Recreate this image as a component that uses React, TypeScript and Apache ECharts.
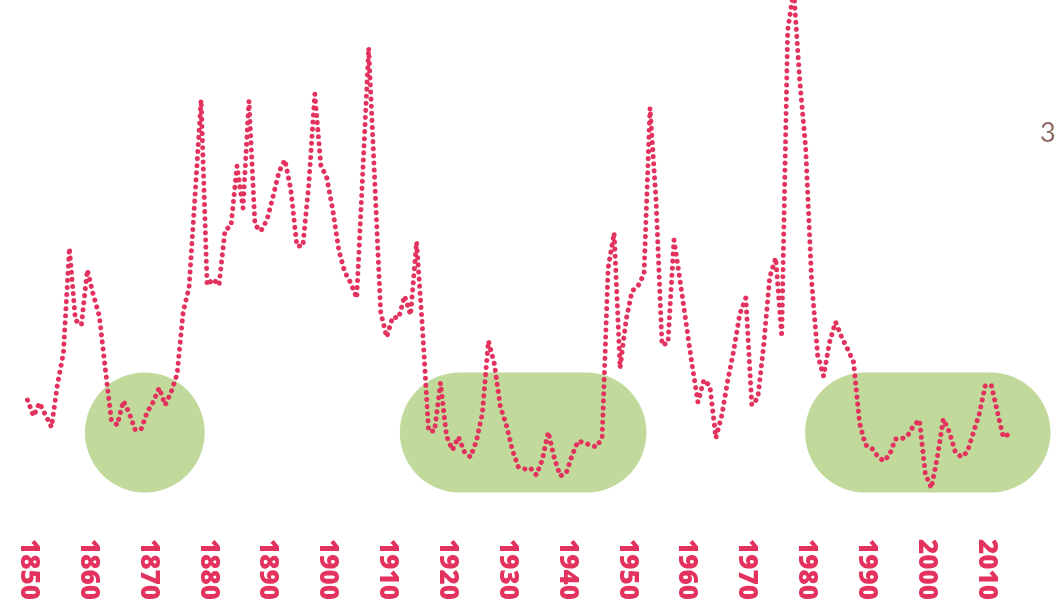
import React, { useEffect, useRef } from "react";
import * as echarts from "echarts";

const START_YEAR = 1850;
const values: number[] = [
  // 1850-1859
  20.0, 16.8, 19.4, 17.0, 14.6, 23.0, 29.4, 50.4, 36.0, 35.0,
  // 1860-1869
  46.0, 41.0, 36.8, 26.2, 16.0, 15.0, 19.8, 17.4, 14.0, 14.2,
  // 1870-1879
  17.6, 19.6, 22.4, 19.0, 21.6, 25.2, 37.6, 42.6, 61.0, 80.0,
  // 1880-1889
  43.0, 44.2, 43.0, 54.0, 54.8, 66.8, 58.4, 79.8, 55.0, 53.8,
  // 1890-1899
  56.0, 60.6, 65.6, 68.0, 62.0, 50.8, 50.8, 63.2, 81.2, 67.0,
  // 1900-1909
  64.4, 58.0, 50.0, 45.6, 43.4, 40.4, 65.2, 90.4, 64.0, 37.6,
  // 1910-1919
  32.6, 36.6, 36.4, 40.8, 37.0, 51.6, 34.0, 13.8, 13.8, 23.4,
  // 1920-1929
  12.8, 10.0, 12.6, 9.6, 8.6, 11.8, 17.4, 31.8, 27.2, 18.6,
  // 1930-1939
  15.0, 10.0, 6.6, 6.2, 6.4, 5.0, 8.0, 13.6, 8.4, 4.8,
  // 1940-1949
  5.4, 9.0, 11.8, 11.4, 11.0, 10.6, 12.4, 46.4, 53.4, 26.4,
  // 1950-1959
  36.0, 41.8, 42.8, 45.2, 78.4, 60.0, 31.0, 31.4, 52.0, 44.0,
  // 1960-1969
  35.6, 27.2, 19.6, 24.0, 22.8, 12.4, 17.0, 24.0, 30.0, 37.2,
  // 1970-1979
  40.4, 19.0, 20.4, 31.0, 44.6, 48.4, 32.6, 94.0, 102.0, 84.0,
  // 1980-1989
  70.4, 43.6, 29.0, 24.8, 31.6, 35.6, 32.6, 30.2, 27.6, 15.4,
  // 1990-1999
  11.0, 10.4, 8.8, 7.8, 9.0, 12.2, 12.2, 12.8, 14.8, 16.0,
  // 2000-2009
  5.2, 2.4, 8.6, 16.2, 13.6, 9.6, 8.6, 9.6, 13.4, 17.2,
  // 2010-2014
  22.8, 23.0, 17.8, 12.6, 13.2,
];
const years: number[] = values.map((_, i) => START_YEAR + i);

// highlighted periods (rounded bands)
const highlightFrom = [1859.6, 1912.2, 1979.9];
const highlightTo = [1879.6, 1953.4, 2020.9];
const highlightLow = [1.5, 1.5, 1.5];
const highlightHigh = [25.5, 25.5, 25.5];

const sideLabel = "3";

export default function App() {
  const ref = useRef<HTMLDivElement>(null);
  useEffect(() => {
    if (!ref.current) return;
    const chart = echarts.init(ref.current, undefined, { renderer: "svg" });
    const bands = highlightFrom.map((f, i) => [f, highlightTo[i], highlightLow[i], highlightHigh[i]]);
    chart.setOption({
      animation: false,
      grid: [
        { left: 27.5, right: 10.9, top: 0, bottom: 105, containLabel: false },
        { left: 31, right: 7.4, top: 0, bottom: 105, containLabel: false },
      ],
      xAxis: [
        {
          type: "value",
          gridIndex: 0,
          min: 1850,
          max: 2020,
          interval: 10,
          axisLine: { show: false },
          axisTick: { show: false },
          splitLine: { show: false },
          axisLabel: { show: false },
        },
        {
          type: "value",
          gridIndex: 1,
          min: 1850,
          max: 2020,
          interval: 10,
          axisLine: { show: false },
          axisTick: { show: false },
          splitLine: { show: false },
          axisLabel: {
            rotate: -90,
            margin: 39,
            color: "#e3325e",
            fontSize: 26,
            fontWeight: 800,
            fontFamily: "Open Sans",
            showMaxLabel: false,
            formatter: (v: number) => String(v),
          },
        },
      ],
      yAxis: [
        { type: "value", gridIndex: 0, min: 0, max: 100, show: false },
        { type: "value", gridIndex: 1, min: 0, max: 100, show: false },
      ],
      series: [
        {
          type: "custom",
          xAxisIndex: 0,
          yAxisIndex: 0,
          silent: true,
          clip: false,
          z: 1,
          encode: { x: [0, 1], y: [2, 3] },
          data: bands,
          renderItem: (params: any, api: any) => {
            const p0 = api.coord([api.value(0), api.value(3)]);
            const p1 = api.coord([api.value(1), api.value(2)]);
            const w = p1[0] - p0[0];
            const h = p1[1] - p0[1];
            return {
              type: "rect",
              shape: { x: p0[0], y: p0[1], width: w, height: h, r: h / 2 },
              style: { fill: "#c1d99b" },
            };
          },
        },
        {
          type: "line",
          xAxisIndex: 0,
          yAxisIndex: 0,
          z: 2,
          symbol: "none",
          showSymbol: false,
          data: years.map((y, i) => [y, values[i]]),
          lineStyle: {
            color: "#e3325e",
            width: 5,
            type: [0.1, 7],
            cap: "round",
            join: "round",
          },
        },
      ],
      graphic: [
        {
          type: "text",
          left: 1040,
          top: 118,
          style: { text: sideLabel, fontSize: 27, fill: "#8d6e63", fontFamily: "Lato" },
        },
      ],
    });
    return () => chart.dispose();
  }, []);
  return <div ref={ref} style={{ position: "fixed", left: 0, top: 0, width: 1056, height: 605 }} />;
}
